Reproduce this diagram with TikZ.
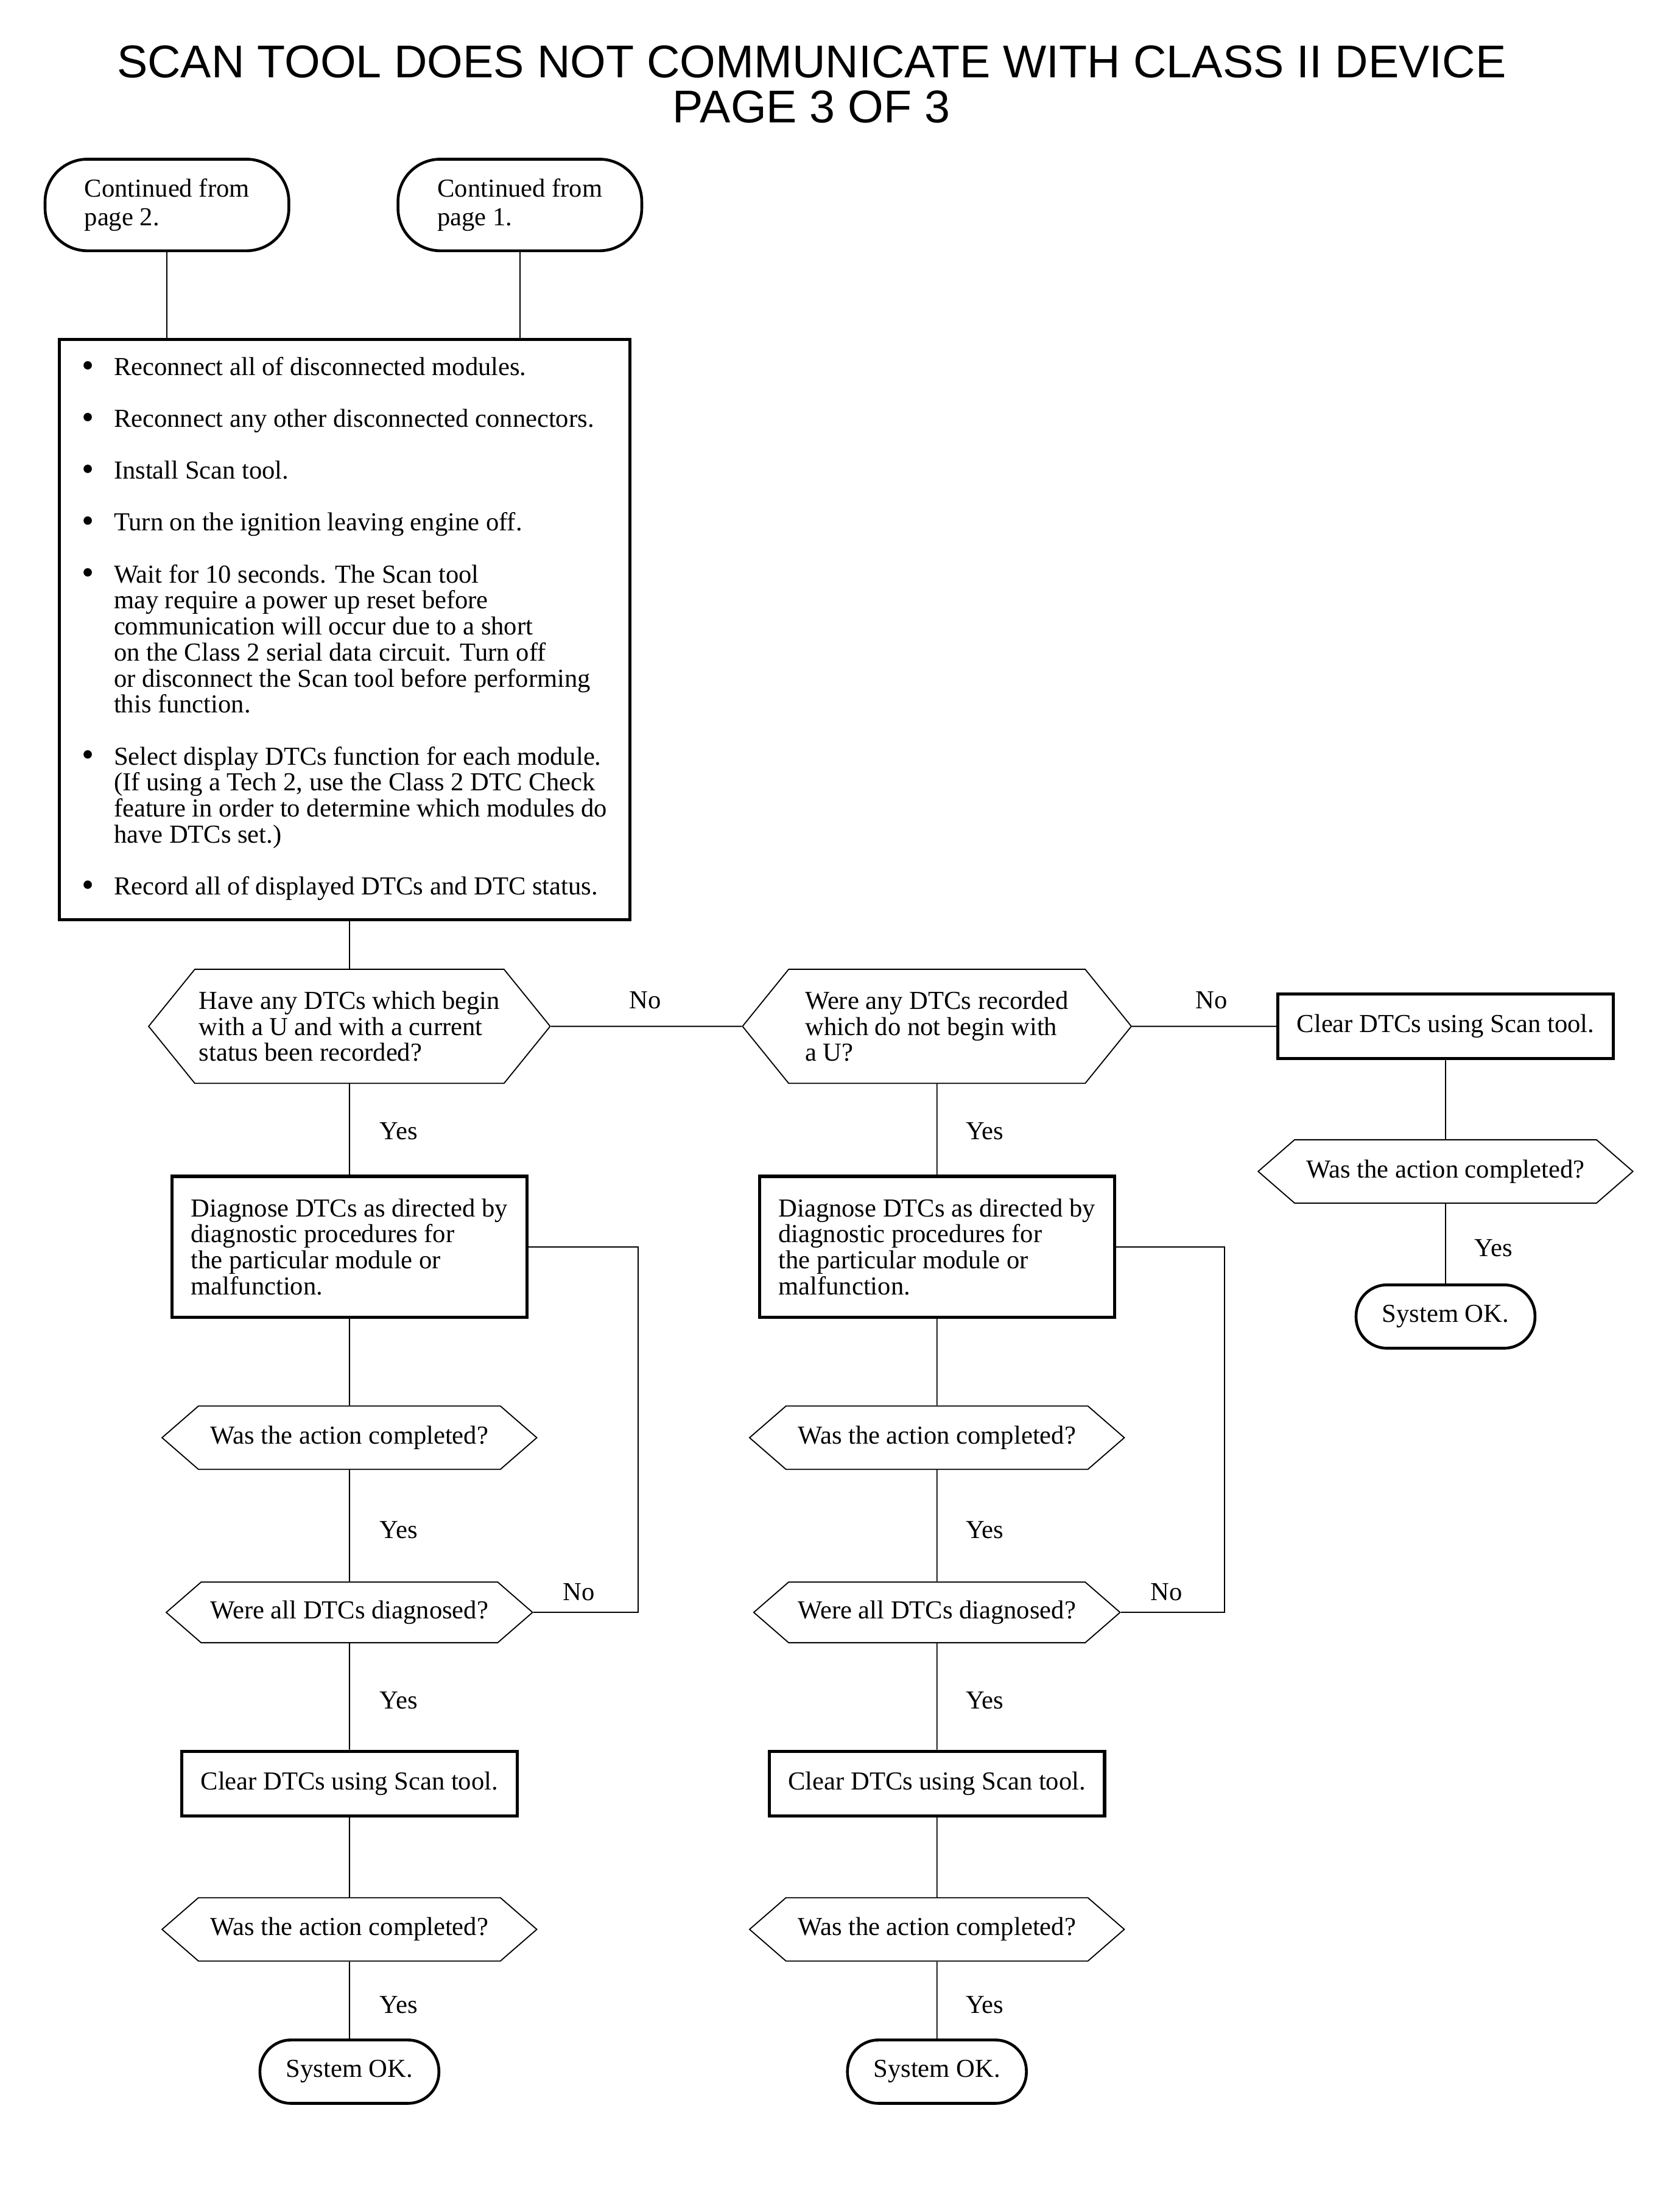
\documentclass[tikz,border=0pt]{standalone}
\usepackage{fontspec}
\setmainfont{Liberation Serif}
\newfontfamily\titlefont{Liberation Sans}
\usetikzlibrary{shapes.symbols, positioning}
\newcommand{\bigdot}{\raisebox{-0.6pt}{\scalebox{1.35}{\textbullet}}}

\begin{document}
\begin{tikzpicture}[
    x=0.5pt, y=-0.5pt,
    every node/.style={font=\fontsize{9.2}{9.2}\selectfont},
    box/.style={draw, line width=1.1pt, inner sep=0pt, align=left},
    term/.style={draw, line width=1pt, rounded corners=11pt, minimum width=63.5pt, minimum height=22.5pt, inner sep=0pt},
    ask/.style={draw, line width=0.4pt, signal, signal to=west and east, signal pointer angle=82, minimum width=133pt, minimum height=22.5pt, inner sep=0pt},
    bigask/.style={ask, signal pointer angle=102, minimum height=40.5pt, align=left},
    line/.style={line width=0.4pt},
    lbl/.style={inner sep=0pt}
]
    \useasboundingbox (0,0) rectangle (1192,1568);

    % Title
    \node[font=\titlefont\fontsize{16.3}{16}\selectfont, align=center, inner sep=0pt] (title) at (576,60) {SCAN TOOL DOES NOT COMMUNICATE WITH CLASS II DEVICE\\PAGE 3 OF 3};

    % Entry points
    \node[term, rounded corners=15pt, minimum width=86.5pt, minimum height=32.5pt, align=left, font=\fontsize{9.2}{10}\selectfont] (from2) at (118.5,145.5) {Continued from\\page 2.};
    \node[term, rounded corners=15pt, minimum width=86.5pt, minimum height=32.5pt, align=left, font=\fontsize{9.2}{10}\selectfont] (from1) at (369,145.5) {Continued from\\page 1.};

    % Steps
    \node[box, minimum width=202.5pt, minimum height=206pt] (steps) at (244.5,447) {%
        \begin{tabular}{@{}l@{\hspace{7pt}}l@{}}
        \bigdot & Reconnect all of disconnected modules.\\[9.2pt]
        \bigdot & Reconnect any other disconnected connectors.\\[9.2pt]
        \bigdot & Install Scan tool.\\[9.2pt]
        \bigdot & Turn on the ignition leaving engine off.\\[9.2pt]
        \bigdot & Wait for 10 seconds. The Scan tool\\
                & may require a power up reset before\\
                & communication will occur due to a short\\
                & on the Class 2 serial data circuit. Turn off\\
                & or disconnect the Scan tool before performing\\
                & this function.\\[9.2pt]
        \bigdot & Select display DTCs function for each module.\\
                & (If using a Tech 2, use the Class 2 DTC Check\\
                & feature in order to determine which modules do\\
                & have DTCs set.)\\[9.2pt]
        \bigdot & Record all of displayed DTCs and DTC status.
        \end{tabular}};

    % Questions
    \node[bigask, minimum width=142.5pt] (uask) at (248,728.5) {Have any DTCs which begin\\with a U and with a current\\status been recorded?};
    \node[bigask, minimum width=138pt] (nask) at (665,728.5) {Were any DTCs recorded\\which do not begin with\\a U?};

    % Right branch
    \node[box, minimum width=119pt, minimum height=23pt] (clearR) at (1026,728.5) {Clear DTCs using Scan tool.};
    \node[ask] (doneR) at (1026,831.5) {Was the action completed?};
    \node[term] (okR) at (1026,934.5) {System OK.};

    % Left branch
    \node[box, minimum width=126pt, minimum height=50pt] (diagL) at (248,885) {Diagnose DTCs as directed by\\diagnostic procedures for\\the particular module or\\malfunction.};
    \node[ask] (doneL) at (248,1020.5) {Was the action completed?};
    \node[ask, minimum width=130pt, minimum height=21.5pt] (allL) at (248,1144.5) {Were all DTCs diagnosed?};
    \node[box, minimum width=119pt, minimum height=23pt] (clearL) at (248,1266) {Clear DTCs using Scan tool.};
    \node[ask] (againL) at (248,1369.5) {Was the action completed?};
    \node[term] (okL) at (248,1470.5) {System OK.};

    % Middle branch
    \node[box, minimum width=126pt, minimum height=50pt] (diagM) at (665,885) {Diagnose DTCs as directed by\\diagnostic procedures for\\the particular module or\\malfunction.};
    \node[ask] (doneM) at (665,1020.5) {Was the action completed?};
    \node[ask, minimum width=130pt, minimum height=21.5pt] (allM) at (665,1144.5) {Were all DTCs diagnosed?};
    \node[box, minimum width=119pt, minimum height=23pt] (clearM) at (665,1266) {Clear DTCs using Scan tool.};
    \node[ask] (againM) at (665,1369.5) {Was the action completed?};
    \node[term] (okM) at (665,1470.5) {System OK.};

    % Lines
    \draw[line] (from2.south) -- (from2.south |- steps.north);
    \draw[line] (from1.south) -- (from1.south |- steps.north);
    \draw[line] (uask.north |- steps.south) -- (uask.north);
    \draw[line] (uask) -- (nask);
    \draw[line] (nask) -- (clearR);
    \draw[line] (clearR) -- (doneR);
    \draw[line] (doneR) -- (okR);

    \draw[line] (uask) -- (diagL);
    \draw[line] (diagL) -- (doneL);
    \draw[line] (doneL) -- (allL);
    \draw[line] (allL) -- (clearL);
    \draw[line] (clearL) -- (againL);
    \draw[line] (againL) -- (okL);
    \draw[line] (diagL.east) -- ++(78,0) |- (allL.east);

    \draw[line] (nask) -- (diagM);
    \draw[line] (diagM) -- (doneM);
    \draw[line] (doneM) -- (allM);
    \draw[line] (allM) -- (clearM);
    \draw[line] (clearM) -- (againM);
    \draw[line] (againM) -- (okM);
    \draw[line] (diagM.east) -- ++(77,0) |- (allM.east);

    % Labels
    \node[lbl] (noU) at (458,710) {No};
    \node[lbl] (noN) at (860,710) {No};
    \node[lbl] (yesR) at (1060,886) {Yes};
    \node[lbl] (yesL1) at (283,803) {Yes};
    \node[lbl] (yesL2) at (283,1086) {Yes};
    \node[lbl] (noL) at (411,1130) {No};
    \node[lbl] (yesL3) at (283,1207) {Yes};
    \node[lbl] (yesL4) at (283,1423) {Yes};
    \node[lbl] (yesM1) at (699,803) {Yes};
    \node[lbl] (yesM2) at (699,1086) {Yes};
    \node[lbl] (noM) at (828,1130) {No};
    \node[lbl] (yesM3) at (699,1207) {Yes};
    \node[lbl] (yesM4) at (699,1423) {Yes};
\end{tikzpicture}
\end{document}
